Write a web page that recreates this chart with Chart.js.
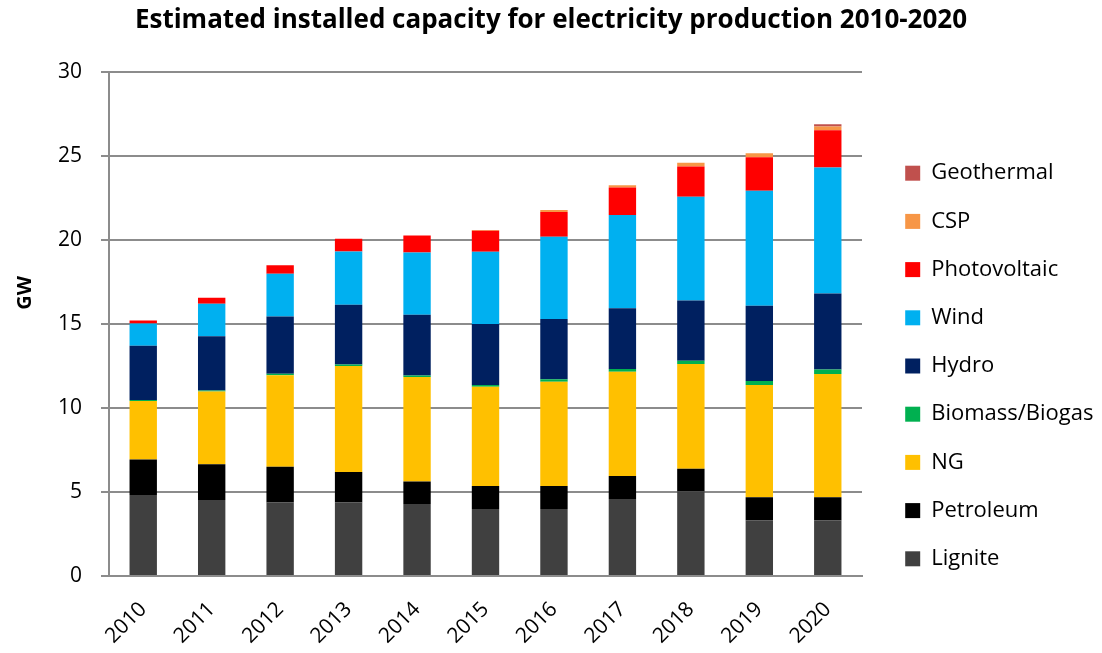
<!DOCTYPE html>
<html>
<head>
<meta charset="utf-8">
<script src="https://cdn.jsdelivr.net/npm/chart.js@4/dist/chart.umd.min.js"></script>
<style>
  html, body { margin: 0; padding: 0; background: #ffffff; }
  #wrap { width: 1102px; height: 653px; }
</style>
</head>
<body>
<div id="wrap"><canvas id="c" width="1102" height="653"></canvas></div>
<script>
const years = ['2010','2011','2012','2013','2014','2015','2016','2017','2018','2019','2020'];
const yTicks = [0, 5, 10, 15, 20, 25, 30];
const lignite    = [4.82, 4.52, 4.38, 4.38, 4.29, 3.99, 3.99, 4.58, 5.05, 3.32, 3.32];
const petroleum  = [2.12, 2.13, 2.13, 1.81, 1.33, 1.37, 1.37, 1.37, 1.33, 1.37, 1.37];
const ng         = [3.48, 4.34, 5.45, 6.31, 6.23, 5.91, 6.21, 6.21, 6.24, 6.68, 7.34];
const biomass    = [0.06, 0.06, 0.08, 0.10, 0.09, 0.10, 0.14, 0.16, 0.20, 0.24, 0.26];
const hydro      = [3.23, 3.22, 3.42, 3.55, 3.62, 3.63, 3.59, 3.63, 3.58, 4.49, 4.53];
const wind       = [1.33, 1.94, 2.54, 3.18, 3.71, 4.31, 4.90, 5.54, 6.18, 6.84, 7.51];
const pv         = [0.18, 0.36, 0.51, 0.75, 1.01, 1.25, 1.47, 1.64, 1.81, 1.99, 2.21];
const csp        = [0, 0, 0, 0, 0, 0.05, 0.12, 0.14, 0.22, 0.24, 0.22];
const geothermal = [0, 0, 0, 0, 0, 0, 0, 0, 0, 0, 0.14];

const seriesNames = ['Lignite','Petroleum','NG','Biomass/Biogas','Hydro','Wind','Photovoltaic','CSP','Geothermal'];
const seriesData = [lignite, petroleum, ng, biomass, hydro, wind, pv, csp, geothermal];
const seriesColors = ['#404040','#000000','#FFC000','#00B050','#002060','#00B0F0','#FF0000','#F79646','#C0504D'];

Chart.defaults.font.family = "'Open Sans', 'DejaVu Sans', sans-serif";
Chart.defaults.color = '#000000';

const gridColor = '#8c8c8c';

new Chart(document.getElementById('c'), {
  type: 'bar',
  data: {
    labels: years,
    datasets: seriesNames.map((name, i) => ({
      label: name,
      data: seriesData[i],
      backgroundColor: seriesColors[i],
      borderWidth: 0,
      categoryPercentage: 1.0,
      barPercentage: 0.4
    }))
  },
  options: {
    responsive: false,
    animation: false,
    devicePixelRatio: 1,
    layout: { padding: 0 },
    plugins: {
      title: {
        display: true,
        text: 'Estimated installed capacity for electricity production 2010-2020',
        font: { size: 26, weight: 'bold' },
        color: '#000000',
        padding: { top: 5, bottom: 36 }
      },
      legend: {
        display: true,
        position: 'right',
        align: 'start',
        reverse: true,
        maxWidth: 223,
        title: { display: true, text: '', font: { size: 10 }, padding: { top: 124, bottom: 0 } },
        labels: {
          boxWidth: 15,
          boxHeight: 15,
          padding: 26.2,
          font: { size: 22 },
          color: '#000000'
        }
      },
      tooltip: { enabled: false }
    },
    scales: {
      x: {
        stacked: true,
        grid: { display: false },
        border: { display: true, color: gridColor, width: 2 },
        ticks: {
          autoSkip: false,
          minRotation: 45,
          maxRotation: 45,
          padding: 13,
          font: { size: 21 },
          color: '#000000'
        },
        afterFit: s => { s.height = 77; }
      },
      y: {
        stacked: true,
        min: 0,
        max: 30,
        afterBuildTicks: s => { s.ticks = yTicks.map(v => ({ value: v })); },
        grid: { color: gridColor, lineWidth: 2, tickLength: 8, drawTicks: true, tickColor: gridColor },
        border: { display: true, color: gridColor, width: 2 },
        ticks: { padding: 19, font: { size: 21 }, color: '#000000' },
        title: {
          display: true,
          text: '            GW',
          font: { size: 20, weight: 'bold' },
          color: '#000000',
          padding: { top: 13, bottom: 0 }
        },
        afterFit: s => { s.width = 109; }
      },
      y2: {
        type: 'linear',
        position: 'right',
        display: true,
        grid: { display: false },
        border: { display: false },
        ticks: { display: false },
        afterFit: s => { s.width = 17; }
      }
    }
  }
});
</script>
</body>
</html>
